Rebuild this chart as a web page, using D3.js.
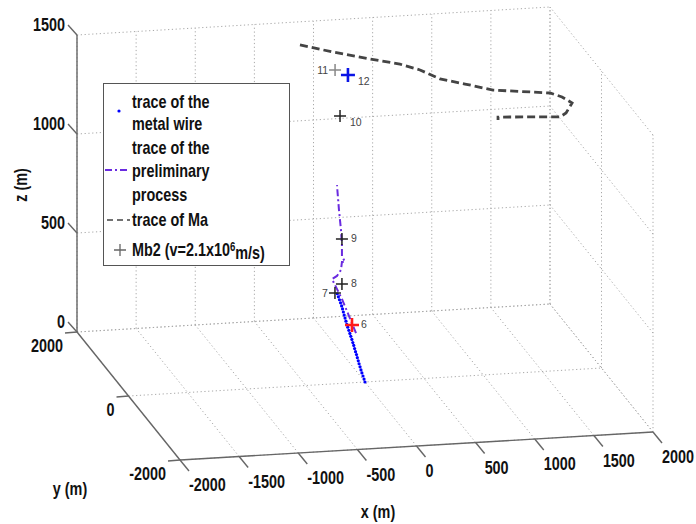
<!DOCTYPE html>
<html>
<head>
<meta charset="utf-8">
<script src="https://cdn.jsdelivr.net/npm/d3@7/dist/d3.min.js"></script>
<style>
  html, body { margin: 0; padding: 0; background: #fff; }
  svg { display: block; }
  .lbl { font-family: "Liberation Sans", Arial, sans-serif; font-weight: bold; font-size: 18px; fill: #111; }
  .pt { font-family: "Liberation Sans", Arial, sans-serif; font-size: 10.5px; fill: #444; }
</style>
</head>
<body>
<svg id="chart" width="696" height="524"></svg>
<script>
// Axis ticks
const xTicks = [-2000, -1500, -1000, -500, 0, 500, 1000, 1500, 2000];
const yTicks = [-2000, 0, 2000];
const zTicks = [0, 500, 1000, 1500];

// Trace of the metal wire (m)
const wireX = [0, -8, -17, -26, -34, -42, -50, -57, -65, -72, -80, -88, -95, -103, -111, -120, -128, -137, -146, -154, -161, -169, -176, -183, -190, -198, -207, -216, -225, -234];
const wireY = [0, 0, 0, 0, 0, 0, 0, 0, 0, 0, 0, 0, 0, 0, 0, 0, 0, 0, 0, 0, 0, 0, 0, 0, 0, 0, 0, 0, 0, 0];
const wireZ = [0, 15, 31, 47, 62, 78, 94, 109, 125, 141, 156, 172, 188, 203, 219, 235, 250, 266, 282, 297, 313, 329, 344, 360, 376, 391, 407, 423, 438, 454];

// Trace of the preliminary process (m)
const preX = [-76, -135, -195, -245, -279, -237, -203, -195, -169, -195, -195, -203, -220, -237];
const preY = [0, 0, 0, 0, 0, 0, 0, 0, 0, 0, 0, 0, 0, 0];
const preZ = [250, 338, 426, 488, 530, 544, 573, 613, 612, 643, 699, 775, 876, 1003];

// Trace of Ma (m)
const maX = [-158, 100, 391, 622, 781, 939, 1129, 1344, 1782, 1873, 1947, 1896, 1845, 1592, 1321, 1321];
const maY = [1800, 1700, 1600, 1500, 1450, 1400, 1300, 1200, 1000, 950, 900, 900, 900, 900, 900, 900];
const maZ = [1417, 1388, 1359, 1341, 1314, 1271, 1255, 1233, 1235, 1220, 1195, 1146, 1128, 1137, 1146, 1131];

// Mb2 source positions (v = 2.1x10^6 m/s)
const mbLabels = ["6", "7", "8", "9", "10", "11", "12"];
const mbX = [-110, -254, -195, -195, -37, -79, 30];
const mbY = [0, 0, 0, 0, 800, 800, 800];
const mbZ = [292, 458, 502, 729, 1215, 1449, 1420];
const mbColors = ["#ff1a1a", "#222", "#222", "#222", "#222", "#888", "#0a14e6"];

const legendLines = ["trace of the", "metal wire", "trace of the", "preliminary", "process", "trace of Ma"];

const svg = d3.select("#chart");

// Orthographic view of the 3D box
const fx = d3.scaleLinear().domain([-2000, 2000]).range([0, 1]);
const fy = d3.scaleLinear().domain([-2000, 2000]).range([0, 1]);
const fz = d3.scaleLinear().domain([0, 1500]).range([0, 1]);
const O = [180, 460], EX = [473, -28], EY = [-103, -128], EZ = [0, -297];
function P(x, y, z) {
  const a = fx(x), b = fy(y), c = fz(z);
  return [O[0] + a * EX[0] + b * EY[0] + c * EZ[0], O[1] + a * EX[1] + b * EY[1] + c * EZ[1]];
}
const line = d3.line();

// Condensed bold label, drawn at (x, y)
const SQUEEZE = 0.8;
function label(g, str, x, y, anchor, rot) {
  return g.append("text").attr("class", "lbl").attr("text-anchor", anchor || "start")
    .attr("transform", `translate(${x},${y})${rot ? " rotate(" + rot + ")" : ""} scale(${SQUEEZE},1)`)
    .text(str);
}

// Grid lines on the back wall, right wall and floor
const grid = [];
xTicks.forEach(x => grid.push([P(x, 2000, 0), P(x, 2000, 1500)]));
zTicks.forEach(z => grid.push([P(-2000, 2000, z), P(2000, 2000, z)]));
yTicks.forEach(y => grid.push([P(2000, y, 0), P(2000, y, 1500)]));
zTicks.forEach(z => grid.push([P(2000, -2000, z), P(2000, 2000, z)]));
xTicks.forEach(x => grid.push([P(x, -2000, 0), P(x, 2000, 0)]));
yTicks.forEach(y => grid.push([P(-2000, y, 0), P(2000, y, 0)]));
svg.append("g").selectAll("path").data(grid).join("path")
  .attr("d", d => line(d))
  .attr("fill", "none").attr("stroke", "#a8a8a8").attr("stroke-width", 1)
  .attr("stroke-dasharray", "1.2,2.6");

// Axis lines
const axes = [
  [P(-2000, 2000, 0), P(-2000, 2000, 1500)],
  [P(-2000, -2000, 0), P(-2000, 2000, 0)],
  [P(-2000, -2000, 0), P(2000, -2000, 0)]
];
svg.append("g").selectAll("path").data(axes).join("path")
  .attr("d", d => line(d)).attr("fill", "none")
  .attr("stroke", "#666").attr("stroke-width", 1.4);

// Ticks and tick labels
const tickG = svg.append("g");
function ticks(vals, pos, dv, place) {
  vals.forEach(v => {
    const p = pos(v), e = [p[0] + dv[0], p[1] + dv[1]];
    tickG.append("line").attr("x1", p[0]).attr("y1", p[1]).attr("x2", e[0]).attr("y2", e[1])
      .attr("stroke", "#666").attr("stroke-width", 1.4);
    place(v, e);
  });
}
ticks(zTicks, z => P(-2000, 2000, z), [-9, -10], (v, e) => label(tickG, v, e[0] - 3, e[1] + 6, "end"));
ticks(yTicks, y => P(-2000, y, 0), [-12, 1], (v, e) => label(tickG, v, e[0] - 2, e[1] + 19, "end"));
ticks(xTicks, x => P(x, -2000, 0), [9, 11], (v, e) => label(tickG, v, e[0], e[1] + 20, "start"));

// Axis titles
label(svg, "z (m)", 27, 185, "middle", -90);
label(svg, "y (m)", 70, 495, "middle");
label(svg, "x (m)", 378, 518, "middle");

// Trace of Ma
const maPts = maX.map((x, i) => P(x, maY[i], maZ[i]));
svg.append("path").attr("d", line(maPts)).attr("fill", "none")
  .attr("stroke", "#444").attr("stroke-width", 2.8).attr("stroke-dasharray", "8,4");

// Preliminary process
const prePts = preX.map((x, i) => P(x, preY[i], preZ[i]));
svg.append("path").attr("d", line(prePts)).attr("fill", "none")
  .attr("stroke", "#6a2be0").attr("stroke-width", 2).attr("stroke-dasharray", "7,3,2,3");

// Metal wire
svg.append("g").selectAll("circle").data(wireX.map((x, i) => P(x, wireY[i], wireZ[i]))).join("circle")
  .attr("cx", d => d[0]).attr("cy", d => d[1]).attr("r", 1.6).attr("fill", "#0000ff");

// Mb2 markers and labels
const mb = mbX.map((x, i) => ({ p: P(x, mbY[i], mbZ[i]), label: mbLabels[i], color: mbColors[i] }));
const mbG = svg.append("g");
mb.forEach(d => {
  const big = d.color !== "#222" && d.color !== "#888";
  const s = big ? 7 : 6;
  mbG.append("path")
    .attr("d", `M${d.p[0] - s},${d.p[1]}H${d.p[0] + s}M${d.p[0]},${d.p[1] - s}V${d.p[1] + s}`)
    .attr("stroke", d.color).attr("stroke-width", big ? 2.6 : 1.5).attr("fill", "none");
  const t = mbG.append("text").attr("class", "pt").text(d.label);
  if (d.label === "11" || d.label === "7") {
    t.attr("x", d.p[0] - 7).attr("y", d.p[1] + 4).attr("text-anchor", "end");
  } else if (d.label === "12" || d.label === "10") {
    t.attr("x", d.p[0] + 10).attr("y", d.p[1] + 10);
  } else {
    t.attr("x", d.p[0] + 9).attr("y", d.p[1] + 3);
  }
});

// Legend
const lg = svg.append("g");
lg.append("rect").attr("x", 103.5).attr("y", 83.5).attr("width", 186).attr("height", 182)
  .attr("fill", "#fff").attr("stroke", "#555").attr("stroke-width", 1);
const lineYs = [102, 124, 148, 171, 195, 220];
legendLines.forEach((s, i) => label(lg, s, 132, lineYs[i] + 6, "start"));
lg.append("circle").attr("cx", 119).attr("cy", 111).attr("r", 1.6).attr("fill", "#0000ff");
lg.append("line").attr("x1", 105).attr("x2", 129).attr("y1", 170).attr("y2", 170)
  .attr("stroke", "#6a2be0").attr("stroke-width", 2).attr("stroke-dasharray", "7,3,2,3");
lg.append("line").attr("x1", 107).attr("x2", 130).attr("y1", 220).attr("y2", 220)
  .attr("stroke", "#444").attr("stroke-width", 1.5).attr("stroke-dasharray", "6,4");
lg.append("path").attr("d", "M114,250H126M120,244V256").attr("stroke", "#666").attr("stroke-width", 1.3);
const mbText = label(lg, "", 132, 256, "start");
mbText.append("tspan").text("Mb2 (v=2.1x10");
mbText.append("tspan").attr("dy", "-0.45em").attr("font-size", "12px").text("6");
mbText.append("tspan").attr("dy", "0.45em").text("m/s)");
</script>
</body>
</html>
